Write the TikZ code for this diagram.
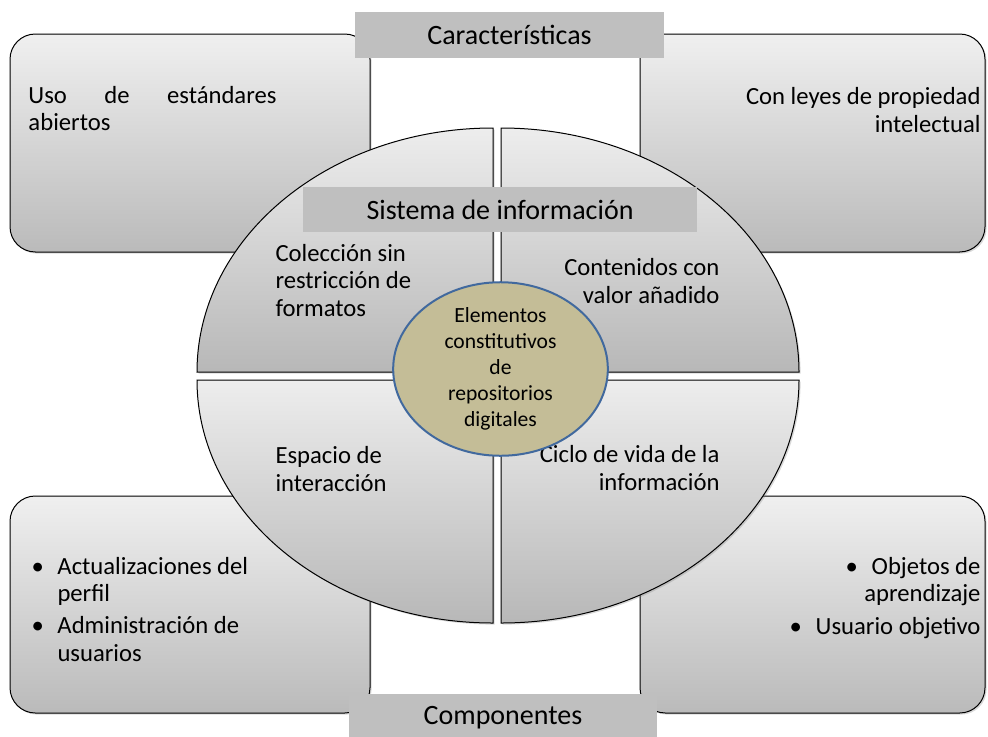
\documentclass[tikz,border=0pt]{standalone}
\usepackage{fontspec}
\setmainfont{Carlito}
\usetikzlibrary{shapes.geometric,shadows}
\definecolor{tagGray}{HTML}{BFBFBF}
\definecolor{hubFill}{HTML}{C4BD97}
\definecolor{hubLine}{HTML}{41699E}
\newcommand{\bodyfont}{\fontsize{18.5}{20.3}\selectfont}
\newcommand{\tagfont}{\fontsize{21}{24}\selectfont}
\newcommand{\hubfont}{\fontsize{16.2}{19.5}\selectfont}
\newcommand{\bulmark}{\makebox[19.5pt][l]{\textbullet}}

\tikzset{every picture/.style={line width=0.75pt}}

\begin{document}
\begin{tikzpicture}[x=0.75pt,y=0.75pt,yscale=-1,xscale=1,
	cardbox/.style={draw=black, rounded corners=19pt, top color=black!6, bottom color=black!27,
		drop shadow={opacity=0.3, shadow xshift=1.2pt, shadow yshift=-1.2pt}},
	quadrant/.style={draw=black, top color=black!7, bottom color=black!28,
		drop shadow={opacity=0.3, shadow xshift=1.2pt, shadow yshift=-1.2pt}},
	tagbox/.style={fill=tagGray, inner sep=0pt, font=\tagfont},
	bodytext/.style={inner sep=0pt, font=\bodyfont},
	hubnode/.style={ellipse, draw=hubLine, line width=1.5pt, fill=hubFill, inner sep=0pt,
		minimum width=161pt, minimum height=127pt, align=center, font=\hubfont}]
	\useasboundingbox (0,0) rectangle (988,736);

	%Shape: corner boxes
	\draw[cardbox] (10,34) rectangle (370,252);
	\draw[cardbox] (640,34) rectangle (985,252);
	\draw[cardbox] (10,496) rectangle (370,713);
	\draw[cardbox] (640,496) rectangle (985,713);

	%Shape: quarters of the circle
	\draw[quadrant] (493,372) -- (197,372) arc[start angle=180, end angle=270, x radius=296, y radius=244] -- cycle;
	\draw[quadrant] (501,372) -- (501,128) arc[start angle=270, end angle=360, x radius=298, y radius=244] -- cycle;
	\draw[quadrant] (501,380) -- (799,380) arc[start angle=0, end angle=90, x radius=298, y radius=243] -- cycle;
	\draw[quadrant] (493,380) -- (493,623) arc[start angle=90, end angle=180, x radius=296, y radius=243] -- cycle;

	% Text Node
	\node[tagbox, minimum width=295.5pt, minimum height=33.75pt] (sistema) at (500,209.5) {Sistema de información};
	\node[bodytext, anchor=base west, align=left] (coleccion) at (275,316) {Colección sin\\restricción de\\formatos};
	\node[bodytext, anchor=base east, align=right] (contenidos) at (720,303) {Contenidos con\\valor añadido};
	\node[bodytext, anchor=base west, align=left] (espacio) at (275,491) {Espacio de\\interacción};
	\node[bodytext, anchor=base east, align=right] (ciclo) at (720,490) {Ciclo de vida de la\\información};

	% Text Node
	\node[hubnode] (hub) at (500.5,369) {Elementos\\constitutivos\\de\\repositorios\\digitales};

	% Text Node
	\node[bodytext, anchor=base west, text width=186pt, align=left] (estandares) at (28,103) {Uso\hfill de\hfill estándares\\abiertos};
	\node[bodytext, anchor=base east, align=right] (leyes) at (981,132) {Con leyes de propiedad\\intelectual};
	\node[bodytext, anchor=base west, align=left] (perfil) at (31,661) {\bulmark Actualizaciones del\\\hspace*{19.5pt}perfil\\[3.75pt]\bulmark Administración de\\\hspace*{19.5pt}usuarios};
	\node[bodytext, anchor=base east, align=right] (objetos) at (981,634) {\bulmark Objetos de\\aprendizaje\\[3.75pt]\bulmark Usuario objetivo};

	% Text Node
	\node[tagbox, minimum width=231.75pt, minimum height=34.5pt] (caract) at (509.5,35) {Características};
	\node[tagbox, minimum width=231pt, minimum height=36pt] (compon) at (503,718) {Componentes};
\end{tikzpicture}
\end{document}
